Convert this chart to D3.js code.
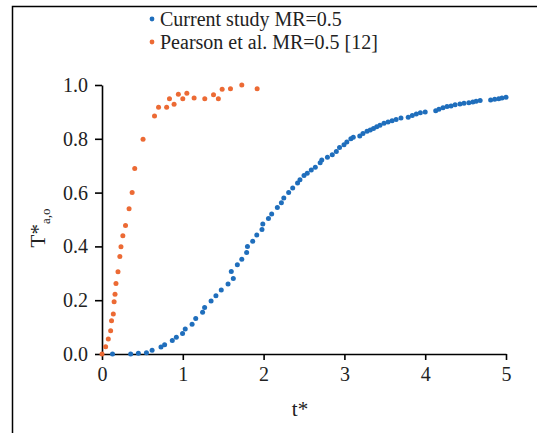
<!DOCTYPE html>
<html><head><meta charset="utf-8">
<script src="https://cdn.jsdelivr.net/npm/d3@7/dist/d3.min.js"></script>
<style>
body{margin:0;background:#fff;}
svg text{font-family:"Liberation Serif","Times New Roman",serif;fill:#222;}
</style></head><body>
<svg id="c" width="537" height="433"></svg>
<script>
const currentT = [0.13,0.355,0.45,0.55,0.62,0.73,0.775,0.87,0.92,0.997,1.03,1.115,1.16,1.245,1.27,1.35,1.41,1.476,1.56,1.625,1.60,1.675,1.73,1.79,1.80,1.865,1.915,1.98,1.99,2.06,2.10,2.17,2.22,2.25,2.31,2.36,2.42,2.45,2.50,2.54,2.59,2.64,2.70,2.72,2.79,2.85,2.90,2.94,2.995,3.03,3.08,3.11,3.19,3.23,3.28,3.32,3.36,3.40,3.44,3.49,3.54,3.59,3.64,3.70,3.79,3.84,3.89,3.94,4.0,4.13,4.17,4.22,4.27,4.32,4.37,4.43,4.48,4.54,4.59,4.63,4.68,4.81,4.86,4.91,4.95,5.0];
const currentV = [0,0,0.003,0.005,0.014,0.026,0.034,0.05,0.062,0.076,0.093,0.111,0.132,0.155,0.173,0.197,0.217,0.238,0.26,0.281,0.307,0.332,0.352,0.377,0.40,0.419,0.442,0.463,0.483,0.504,0.52,0.545,0.562,0.58,0.60,0.617,0.636,0.648,0.664,0.672,0.684,0.694,0.711,0.721,0.731,0.741,0.753,0.768,0.778,0.788,0.80,0.806,0.81,0.82,0.828,0.833,0.838,0.845,0.85,0.858,0.862,0.867,0.872,0.877,0.88,0.887,0.892,0.897,0.90,0.904,0.91,0.915,0.92,0.922,0.927,0.929,0.932,0.934,0.937,0.94,0.942,0.944,0.947,0.949,0.952,0.954];
const pearsonT = [0,0.045,0.078,0.107,0.118,0.14,0.15,0.161,0.173,0.198,0.221,0.235,0.258,0.291,0.335,0.373,0.405,0.508,0.65,0.70,0.80,0.835,0.892,0.945,1.0,1.05,1.14,1.272,1.38,1.44,1.487,1.59,1.73,1.92];
const pearsonV = [0,0.027,0.056,0.086,0.124,0.149,0.194,0.222,0.262,0.306,0.362,0.399,0.44,0.478,0.54,0.60,0.69,0.798,0.885,0.917,0.917,0.949,0.928,0.966,0.949,0.969,0.952,0.949,0.964,0.949,0.984,0.986,1.0,0.986];
const xTicks = [0,1,2,3,4,5];
const yTicks = [0,0.2,0.4,0.6,0.8,1.0];
const seriesNames = ["Current study MR=0.5","Pearson et al. MR=0.5 [12]"];
const colors = ["#1f6ebc","#ec6a34"];

const svg = d3.select("#c");
// frame
svg.append("path").attr("d","M12.5,433 L12.5,6.5 L537,6.5").attr("fill","none").attr("stroke","#000").attr("stroke-width",1.5);

const x = d3.scaleLinear().domain([0,5]).range([102,506]);
const y = d3.scaleLinear().domain([0,1]).range([354,85]);

const fmt = d3.format(".1f");
const gx = svg.append("g").attr("transform","translate(0,354)")
  .call(d3.axisBottom(x).tickValues(xTicks).tickFormat(d3.format("d")).tickSize(6).tickSizeOuter(0).tickPadding(7));
const gy = svg.append("g").attr("transform","translate(102,0)")
  .call(d3.axisLeft(y).tickValues(yTicks).tickFormat(fmt).tickSize(7).tickSizeOuter(0).tickPadding(7));
[gx,gy].forEach(g=>{
  g.select(".domain").attr("stroke","#000").attr("stroke-width",1.6);
  g.selectAll(".tick line").attr("stroke","#000").attr("stroke-width",1.6);
  g.selectAll(".tick text").attr("font-family","Liberation Serif, serif").attr("font-size",20).attr("fill","#222");
});

function dots(ts,vs,col){
  svg.append("g").selectAll("circle").data(ts.map((t,i)=>[t,vs[i]])).join("circle")
    .attr("cx",d=>x(d[0])).attr("cy",d=>y(d[1])).attr("r",2.5).attr("fill",col);
}
dots(currentT,currentV,colors[0]);
dots(pearsonT,pearsonV,colors[1]);

// legend
seriesNames.forEach((n,i)=>{
  const yy = 19 + i*23;
  svg.append("circle").attr("cx",152).attr("cy",yy).attr("r",2.4).attr("fill",colors[i]);
  svg.append("text").attr("x",160).attr("y",yy+7).attr("font-size",20).text(n);
});

// axis titles
svg.append("text").attr("x",300).attr("y",416).attr("text-anchor","middle").attr("font-size",21).text("t*");
const yl = svg.append("text").attr("transform","translate(45,228) rotate(-90)").attr("text-anchor","middle").attr("font-size",21);
yl.append("tspan").text("T*");
yl.append("tspan").attr("font-size",13).attr("dy",5).text("a,o");
</script></body></html>
